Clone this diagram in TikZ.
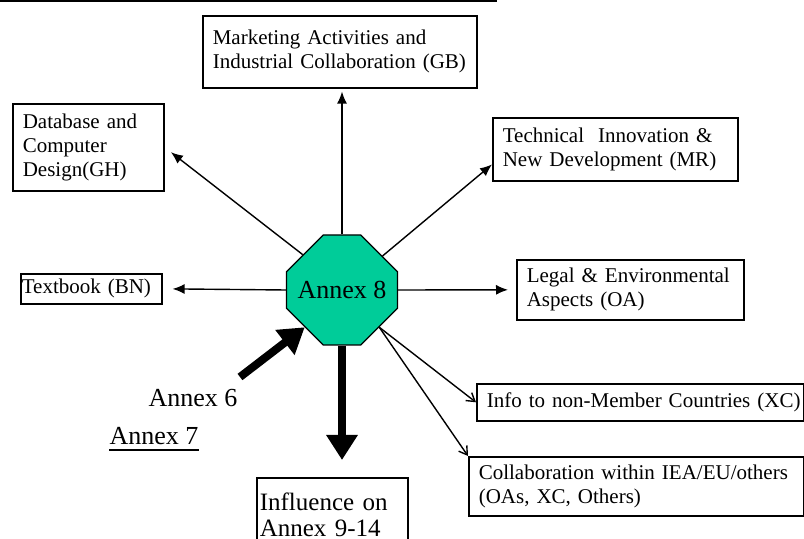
\documentclass[tikz,border=0pt]{standalone}
\usepackage{fontspec}
\setmainfont{Liberation Serif}
\usepackage{color}
\usetikzlibrary{shapes.misc, shapes, arrows.meta}
\definecolor{annexgreen}{RGB}{0,204,153}

\tikzset{
	box/.style={draw, line width=0.8pt, anchor=north west, align=left, inner xsep=5pt, inner ysep=0pt, font=\fontsize{10.5}{12}\selectfont},
	octbox/.style={chamfered rectangle, chamfered rectangle xsep=14pt, chamfered rectangle ysep=14pt, draw, fill=annexgreen, line width=0.6pt, minimum width=55.5pt, minimum height=55pt, inner sep=0pt, font=\fontsize{13}{15}\selectfont},
	lbl/.style={inner sep=0pt, anchor=base, font=\fontsize{13}{15}\selectfont},
	thin/.style={line width=0.7pt, -{Latex[length=6pt,width=5pt]}},
	barb/.style={line width=0.7pt, -{Straight Barb[length=4pt,width=5pt]}},
	fat/.style={line width=4pt, -{Triangle[length=12.5pt,width=15pt]}}
}

\begin{document}
\begin{tikzpicture}[x=0.5pt, y=-0.5pt]
	\useasboundingbox (0,0) rectangle (804,539);
	\clip (0,0) rectangle (804,539);
	\draw[line width=1.5pt] (0,1) -- (497,1);
	\node[box, text width=127pt, minimum height=36pt] (mkt) at (202,15) {Marketing Activities and\\Industrial Collaboration (GB)};
	\node[box, text width=65.5pt, minimum height=43.5pt] (db) at (12,103) {Database and\\Computer\\Design(GH)};
	\node[box, text width=112.5pt, minimum height=31.5pt] (tech) at (492,117) {Technical\ \ Innovation \&\\New Development (MR)};
	\node[box, inner xsep=0.5pt, text width=69.5pt, minimum height=15pt] (tb) at (20,273) {Textbook (BN)};
	\node[box, text width=103.5pt, minimum height=30pt] (legal) at (516,259) {Legal \& Environmental\\Aspects (OA)};
	\node[box, text width=153.5pt, minimum height=18.5pt] (info) at (476,383) {\mbox{Info to non-Member Countries (XC)}};
	\node[box, text width=157.5pt, minimum height=29.5pt] (collab) at (468,456) {Collaboration within IEA/EU/others\\(OAs, XC, Others)};
	\node[box, inner xsep=1.5pt, text width=72.5pt, minimum height=37pt, font=\fontsize{12.5}{13}\selectfont] (infl) at (256,477) {Influence on\\Annex 9-14};
	\node[octbox] (a8) at (342,290) {Annex 8};
	\node[lbl] (a6) at (193,407) {Annex 6};
	\node[lbl] (a7) at (154,445) {Annex 7};
	\draw[line width=1pt] ([yshift=-2.5pt]a7.base west) -- ([yshift=-2.5pt]a7.base east);
	\coordinate (a6tail) at (240,377);
	\draw[thin, shorten >=1.5pt] (a8.north) -- (a8.north |- mkt.south);
	\draw[thin, shorten >=4pt] (a8.138) -- (db.east);
	\draw[thin] (a8.40) -- (tech.187);
	\draw[thin, shorten >=5pt] (a8.west) -- (tb.east);
	\draw[thin, shorten >=4pt] (a8.east) -- (legal.west);
	\draw[barb] (a8.315) -- (info.west);
	\draw[barb] (a8.315) -- (collab.north west);
	\draw[fat, shorten >=8.5pt] (a8.south) -- (a8.south |- infl.north);
	\draw[fat] (a6tail) -- (a8.225);
\end{tikzpicture}
\end{document}
